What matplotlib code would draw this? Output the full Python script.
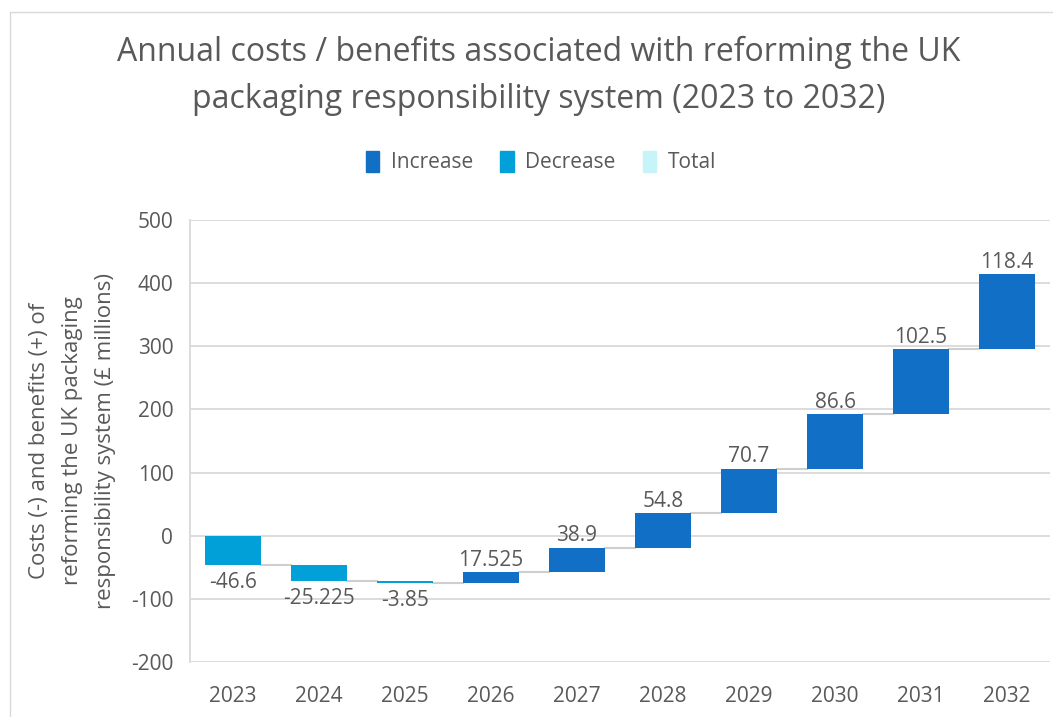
import matplotlib
matplotlib.use("Agg")
import matplotlib.pyplot as plt
from matplotlib.patches import Patch, Rectangle
import numpy as np

years = ["2023", "2024", "2025", "2026", "2027", "2028", "2029", "2030", "2031", "2032"]
changes = [-46.6, -25.225, -3.85, 17.525, 38.9, 54.8, 70.7, 86.6, 102.5, 118.4]
labels = ["-46.6", "-25.225", "-3.85", "17.525", "38.9", "54.8", "70.7", "86.6", "102.5", "118.4"]
yticks = [-200, -100, 0, 100, 200, 300, 400, 500]

c_inc = "#1170C6"
c_dec = "#02A0D8"
c_tot = "#C6F4F8"
txt = "#595959"
grid_c = "#D9D9D9"

plt.rcParams["font.family"] = ["Open Sans", "DejaVu Sans"]
plt.rcParams["axes.unicode_minus"] = False

fig = plt.figure(figsize=(10.53, 7.17), dpi=100)
fig.patches.append(Rectangle((10 / 1053, -0.01), 1.02, 1 - 12 / 717 + 0.01,
                             transform=fig.transFigure, fill=False,
                             edgecolor="#D9D9D9", linewidth=1.0))
ax = fig.add_axes([190 / 1053, 1 - 662 / 717, (1050 - 190) / 1053, (662 - 220) / 717])

x = np.arange(len(years))
ends = np.cumsum(changes)
starts = ends - np.array(changes)
width = 0.65

for i, (s, e, c) in enumerate(zip(starts, ends, changes)):
    col = c_inc if c > 0 else c_dec
    lo, hi = min(s, e), max(s, e)
    ax.bar(x[i], hi - lo, bottom=lo, width=width, color=col, zorder=3)
    if c > 0:
        ax.annotate(labels[i], (x[i], hi), xytext=(0, 1), textcoords="offset points",
                    ha="center", va="bottom", fontsize=15, color=txt)
    else:
        ax.annotate(labels[i], (x[i], lo), xytext=(0, -5), textcoords="offset points",
                    ha="center", va="top", fontsize=15, color=txt)
    if i < len(years) - 1:
        ax.plot([x[i] + width / 2, x[i + 1] - width / 2], [e, e],
                color="#CFCFCF", linewidth=1.5, zorder=2)

ax.set_xlim(-0.5, len(years) - 0.5)
ax.set_ylim(-200, 500)
ax.set_yticks(yticks)
ax.set_xticks(x)
ax.set_xticklabels(years)
ax.yaxis.grid(True, color=grid_c, linewidth=1.3, zorder=0)
ax.set_axisbelow(True)
for side in ["top", "right", "bottom"]:
    ax.spines[side].set_visible(False)
ax.spines["left"].set_color(grid_c)
ax.spines["left"].set_linewidth(1.3)
ax.tick_params(axis="both", length=0, labelsize=15, labelcolor=txt)
ax.tick_params(axis="y", pad=12)
ax.tick_params(axis="x", pad=17)

ax.set_ylabel("Costs (-) and benefits (+) of\nreforming the UK packaging\nresponsibility system (£ millions)",
              fontsize=16, color=txt, labelpad=11, linespacing=1.75)

title_lines = ["Annual costs / benefits associated with reforming the UK",
               "packaging responsibility system (2023 to 2032)"]
for line, ypx in zip(title_lines, [52, 99]):
    fig.text(539 / 1053, 1 - ypx / 717, line, ha="center", va="center",
             fontsize=23, color=txt)

handles = [Patch(color=c_inc, label="Increase"), Patch(color=c_dec, label="Decrease"),
           Patch(color=c_tot, label="Total")]
fig.legend(handles=handles, loc="center", bbox_to_anchor=(541 / 1053, 1 - 162 / 717), ncol=3,
           frameon=False, fontsize=15, labelcolor=txt, handlelength=0.65, handleheight=1.2,
           handletextpad=0.55, columnspacing=1.3)

fig.savefig("out.png", dpi=100, facecolor="white")
